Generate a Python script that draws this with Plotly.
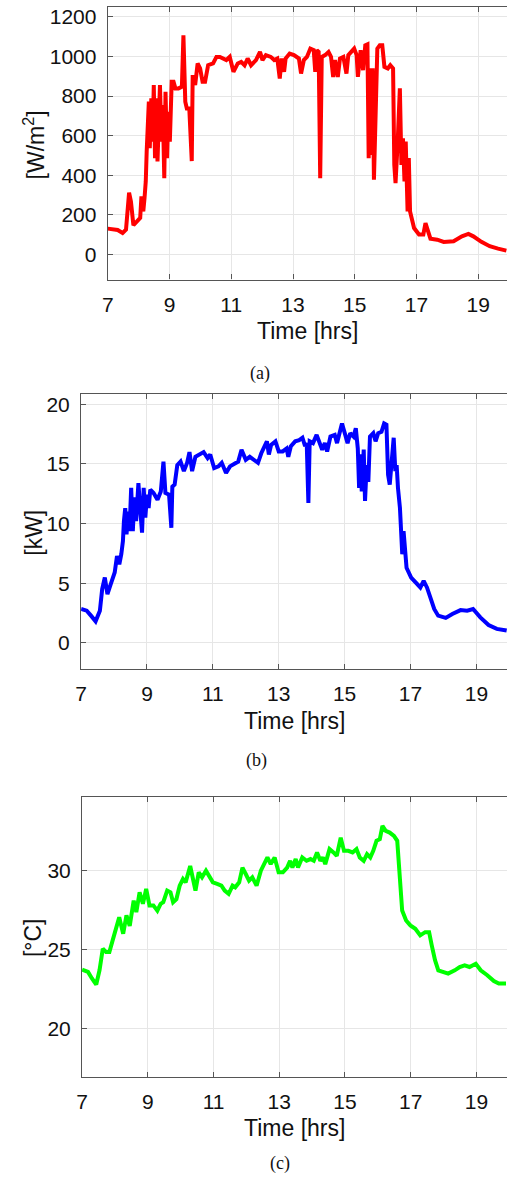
import plotly.graph_objects as go

# ---- Solar irradiance [W/m^2] ----
irr_t = [7.0, 7.32, 7.48, 7.59, 7.69, 7.75, 7.83, 7.96, 8.05, 8.09, 8.15, 8.19, 8.23, 8.26,
         8.3, 8.33, 8.36, 8.41, 8.45, 8.49, 8.53, 8.58, 8.61, 8.65, 8.69, 8.74, 8.78, 8.83,
         8.87, 8.92, 8.96, 9.01, 9.07, 9.13, 9.19, 9.29, 9.4, 9.45, 9.51, 9.56, 9.64, 9.72,
         9.75, 9.83, 9.91, 9.99, 10.07, 10.15, 10.25, 10.41, 10.52, 10.63, 10.73, 10.84,
         10.95, 11.07, 11.21, 11.32, 11.43, 11.53, 11.64, 11.8, 11.93, 12.01, 12.12, 12.28,
         12.39, 12.49, 12.57, 12.63, 12.71, 12.76, 12.89, 13.03, 13.19, 13.26, 13.35, 13.45,
         13.56, 13.67, 13.72, 13.77, 13.83, 13.88, 13.93, 14.04, 14.15, 14.23, 14.3, 14.36,
         14.45, 14.52, 14.63, 14.73, 14.79, 14.89, 14.98, 15.06, 15.1, 15.19, 15.27, 15.34,
         15.41, 15.45, 15.49, 15.53, 15.58, 15.62, 15.67, 15.73, 15.81, 15.89, 15.96, 16.07,
         16.15, 16.24, 16.28, 16.32, 16.39, 16.46, 16.51, 16.56, 16.61, 16.65, 16.71, 16.75,
         16.79, 16.85, 16.92, 17.08, 17.22, 17.29, 17.37, 17.45, 17.67, 17.88, 18.2, 18.47,
         18.68, 18.84, 19.1, 19.37, 19.64, 19.91]
irr_v = [131, 124, 109, 126, 312, 268, 148, 168, 185, 294, 218, 285, 369, 520,
         680, 772, 537, 789, 570, 856, 487, 789, 470, 772, 856, 570, 755, 386,
         822, 487, 721, 570, 872, 872, 839, 839, 847, 1107, 772, 738, 738, 472,
         906, 856, 965, 940, 872, 872, 956, 965, 998, 998, 990, 982,
         998, 923, 965, 973, 956, 990, 956, 982, 1023, 982, 1007, 998,
         982, 990, 889, 990, 923, 990, 1015, 1007, 990, 914, 982, 998,
         1040, 1032, 923, 1032, 1023, 386, 998, 1007, 1023, 998, 897, 982,
         897, 990, 998, 914, 1007, 1023, 1040, 1007, 897, 1032, 931, 1057,
         1062, 487, 940, 503, 940, 378, 721, 1040, 1057, 1057, 948, 940,
         956, 940, 453, 361, 570, 839, 453, 587, 369, 570, 218, 487,
         218, 168, 134, 101, 101, 159, 117, 80, 75, 64, 67, 92,
         104, 92, 64, 42, 30, 20]

# ---- PV output power [kW] ----
pow_t = [7.0, 7.17, 7.3, 7.44, 7.57, 7.64, 7.72, 7.8, 7.9, 8.02, 8.09, 8.16, 8.22, 8.27,
         8.3, 8.34, 8.38, 8.42, 8.47, 8.52, 8.57, 8.62, 8.67, 8.74, 8.8, 8.85, 8.9, 8.95,
         9.0, 9.05, 9.1, 9.2, 9.32, 9.42, 9.5, 9.56, 9.67, 9.74, 9.77, 9.84, 9.92, 10.02,
         10.12, 10.22, 10.29, 10.37, 10.47, 10.62, 10.72, 10.84, 10.92, 11.04, 11.17, 11.27,
         11.4, 11.52, 11.67, 11.77, 11.87, 12.0, 12.12, 12.24, 12.37, 12.47, 12.57, 12.64,
         12.7, 12.77, 12.9, 13.0, 13.12, 13.24, 13.29, 13.37, 13.5, 13.62, 13.72, 13.8,
         13.85, 13.9, 13.94, 14.04, 14.15, 14.24, 14.32, 14.4, 14.47, 14.57, 14.7, 14.77,
         14.84, 14.92, 15.02, 15.09, 15.17, 15.27, 15.34, 15.4, 15.44, 15.48, 15.52, 15.58,
         15.62, 15.67, 15.72, 15.77, 15.87, 15.94, 16.02, 16.12, 16.2, 16.27, 16.32, 16.37,
         16.42, 16.49, 16.54, 16.58, 16.62, 16.68, 16.72, 16.75, 16.79, 16.83, 16.88, 17.02,
         17.17, 17.3, 17.4, 17.5, 17.62, 17.72, 17.84, 18.07, 18.27, 18.52, 18.72, 18.9,
         19.12, 19.37, 19.62, 19.92]
pow_v = [2.84, 2.7, 2.28, 1.81, 2.7, 4.5, 5.48, 4.09, 4.92, 5.9, 7.29, 6.59, 7.43, 8.54,
         10.2, 11.3, 9.1, 11.0, 9.37, 13.0, 9.37, 12.2, 10.2, 13.4, 11.0, 9.24, 13.0, 10.5,
         12.43, 11.3, 12.85, 12.57, 12.0, 12.7, 15.2, 12.57, 12.43, 9.65, 13.1, 13.27, 14.9, 15.2,
         14.4, 15.1, 16.0, 14.4, 15.6, 15.8, 16.0, 15.5, 15.8, 14.66, 14.8, 15.1,
         14.24, 14.8, 15.1, 15.2, 16.2, 15.35, 15.6, 15.35, 15.1, 15.9, 16.47, 16.9,
         15.8, 16.6, 16.9, 16.05, 16.05, 16.3, 15.6, 16.5, 16.9, 17.0, 17.2, 16.5,
         16.75, 11.74, 16.9, 16.75, 17.44, 16.75, 16.2, 16.75, 16.05, 17.3, 17.44, 16.75,
         17.7, 18.4, 17.44, 16.75, 17.58, 17.3, 18.0, 16.3, 13.0, 15.8, 12.7, 16.2,
         11.9, 14.9, 13.5, 17.3, 17.58, 16.9, 17.58, 17.7, 18.4, 18.3, 14.1, 13.27,
         14.9, 17.2, 14.4, 14.9, 13.0, 11.3, 9.1, 7.43, 9.37, 7.43, 6.3, 5.48,
         5.06, 4.65, 5.2, 4.65, 3.67, 2.84, 2.28, 2.09, 2.42, 2.75, 2.7, 2.84,
         2.14, 1.5, 1.17, 1.03]

# ---- Ambient temperature [°C] ----
tmp_t = [7.0, 7.18, 7.3, 7.43, 7.53, 7.63, 7.73, 7.83, 7.93, 8.03, 8.13, 8.25, 8.35, 8.45,
         8.57, 8.65, 8.75, 8.85, 8.95, 9.05, 9.17, 9.29, 9.39, 9.47, 9.59, 9.69, 9.77, 9.87,
         9.97, 10.07, 10.15, 10.29, 10.37, 10.45, 10.55, 10.65, 10.77, 10.87, 10.98, 11.11,
         11.24, 11.34, 11.46, 11.58, 11.66, 11.78, 11.88, 11.98, 12.08, 12.18, 12.31, 12.44,
         12.56, 12.64, 12.74, 12.86, 12.98, 13.11, 13.24, 13.33, 13.4, 13.5, 13.57, 13.7,
         13.83, 13.95, 14.05, 14.15, 14.25, 14.33, 14.4, 14.53, 14.65, 14.75, 14.87, 14.97,
         15.1, 15.23, 15.35, 15.45, 15.57, 15.67, 15.77, 15.86, 15.96, 16.06, 16.14, 16.24,
         16.36, 16.49, 16.59, 16.66, 16.74, 16.86, 16.99, 17.14, 17.29, 17.44, 17.56, 17.64,
         17.74, 17.84, 17.99, 18.14, 18.34, 18.49, 18.64, 18.79, 18.98, 19.13, 19.33, 19.53,
         19.68, 19.9]
tmp_v = [23.73, 23.58, 23.16, 22.78, 23.68, 25.05, 24.84, 24.84, 25.58, 26.3, 27.05, 26.0, 27.16, 26.5,
         28.1, 27.37, 28.63, 27.9, 28.84, 27.8, 27.8, 27.47, 27.9, 28.0, 28.74, 28.63, 28.0, 28.2,
         29.05, 29.47, 29.26, 30.3, 29.37, 28.74, 29.9, 29.58, 30.0, 29.58, 29.26, 29.16,
         29.05, 28.74, 28.53, 29.05, 28.95, 29.26, 30.2, 29.79, 29.37, 29.58, 29.05, 30.0,
         30.53, 30.84, 30.42, 30.84, 29.9, 29.9, 30.2, 30.63, 30.2, 30.74, 30.2, 30.84,
         30.63, 30.74, 30.63, 31.16, 30.63, 30.84, 30.42, 31.37, 31.16, 30.95, 32.1, 31.26,
         31.26, 31.16, 31.37, 30.84, 30.63, 31.05, 30.84, 31.26, 31.9, 32.0, 32.84, 32.53,
         32.42, 32.21, 31.9, 29.58, 27.47, 26.84, 26.53, 26.32, 25.9, 26.1, 26.1, 25.26,
         24.32, 23.68, 23.58, 23.47, 23.68, 23.89, 24.0, 23.89, 24.1, 23.68, 23.37, 23.0,
         22.84, 22.84]

x_ticks = [7, 9, 11, 13, 15, 17, 19]

W, H = 507, 1177
FONT = "Liberation Sans, Arial, Helvetica, sans-serif"
SERIF = "Liberation Serif, Times New Roman, serif"


def px(x):
    return x / W


def py(y):
    return 1 - y / H


# panel boxes in pixels: (left, top, bottom), all running to the right page edge
panels = [
    dict(t=irr_t, v=irr_v, color="#ff0000", left=103, top=5, bottom=278,
         yrange=[-126, 1250], ytick=[0, 200, 400, 600, 800, 1000, 1200],
         ytitle="[W/m<sup>2</sup>]", ytitle_y=143, xtitle_y=330, cap="(a)", cap_x=257, cap_y=372),
    dict(t=pow_t, v=pow_v, color="#0000ff", left=76, top=393, bottom=668,
         yrange=[-2.18, 20.84], ytick=[0, 5, 10, 15, 20],
         ytitle="[kW]", ytitle_y=532, xtitle_y=720, cap="(b)", cap_x=253, cap_y=760),
    dict(t=tmp_t, v=tmp_v, color="#00ff00", left=77, top=796, bottom=1077,
         yrange=[16.9, 34.7], ytick=[20, 25, 30],
         ytitle="[°C]", ytitle_y=937, xtitle_y=1128, cap="(c)", cap_x=277, cap_y=1163),
]

fig = go.Figure()
annotations = []
layout_axes = {}

for i, p in enumerate(panels, start=1):
    xa = "x" if i == 1 else f"x{i}"
    ya = "y" if i == 1 else f"y{i}"
    fig.add_trace(go.Scatter(x=p["t"], y=p["v"], mode="lines",
                             line=dict(color=p["color"], width=4),
                             xaxis=xa, yaxis=ya, showlegend=False, hoverinfo="skip"))
    axis_common = dict(showgrid=True, gridcolor="#e6e6e6", gridwidth=1,
                       showline=True, linecolor="#555555", linewidth=1.2,
                       ticks="inside", ticklen=5, tickcolor="#555555", tickwidth=1,
                       zeroline=False,
                       tickfont=dict(family=FONT, size=21, color="#111111"))
    layout_axes["xaxis" if i == 1 else f"xaxis{i}"] = dict(
        axis_common, domain=[px(p["left"]), 1.0], range=[7, 19.93],
        tickmode="array", tickvals=x_ticks, ticktext=[str(v) for v in x_ticks],
        anchor=ya, mirror="ticks", ticklabelstandoff=6)
    layout_axes["yaxis" if i == 1 else f"yaxis{i}"] = dict(
        axis_common, domain=[py(p["bottom"]), py(p["top"])], range=p["yrange"],
        tickmode="array", tickvals=p["ytick"], ticktext=[str(v) for v in p["ytick"]],
        anchor=xa, ticklabelstandoff=6)

    cx = (p["left"] + W) / 2
    annotations.append(dict(text="Time [hrs]", x=px(cx), y=py(p["xtitle_y"]),
                            xref="paper", yref="paper", showarrow=False,
                            xanchor="center", yanchor="middle",
                            font=dict(family=FONT, size=23, color="#111111")))
    annotations.append(dict(text=p["ytitle"], x=px(28), y=py(p["ytitle_y"]),
                            xref="paper", yref="paper", showarrow=False, textangle=-90,
                            xanchor="center", yanchor="middle",
                            font=dict(family=FONT, size=23, color="#111111")))
    annotations.append(dict(text=p["cap"], x=px(p["cap_x"]), y=py(p["cap_y"]),
                            xref="paper", yref="paper", showarrow=False,
                            xanchor="center", yanchor="middle",
                            font=dict(family=SERIF, size=18, color="#111111")))

fig.update_layout(width=W, height=H, margin=dict(l=0, r=0, t=0, b=0),
                  paper_bgcolor="white", plot_bgcolor="white",
                  annotations=annotations, **layout_axes)

fig.write_html("out.html")
